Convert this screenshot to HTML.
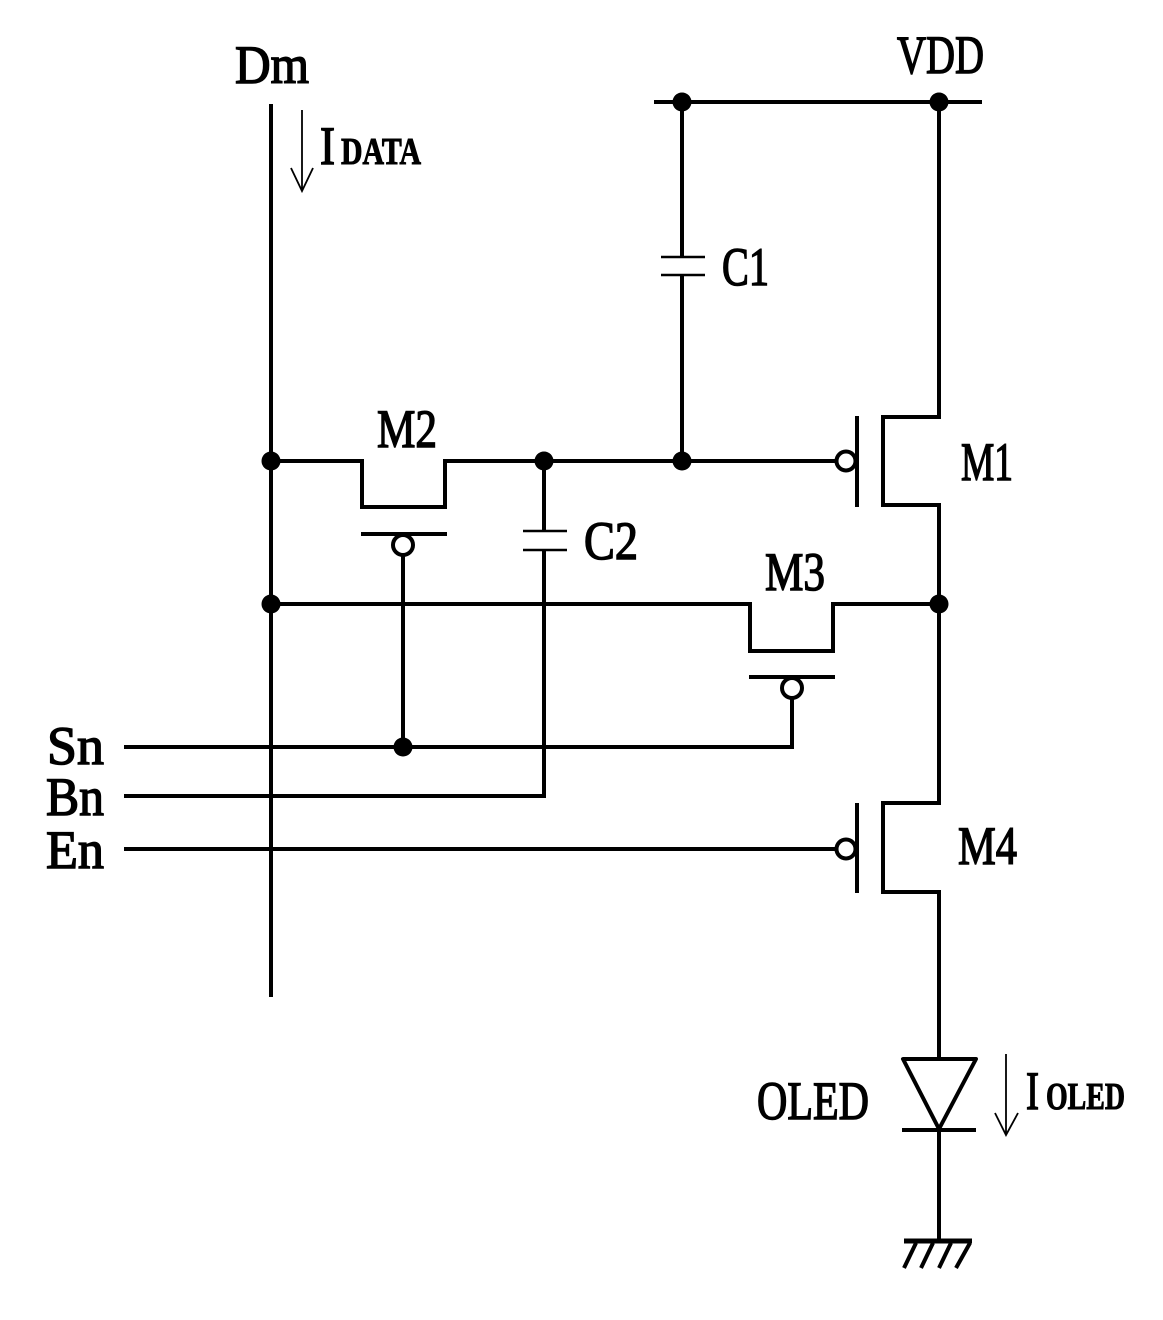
<!DOCTYPE html>
<html>
<head>
<meta charset="utf-8">
<style>
html,body{margin:0;padding:0;background:#fff;}
svg{display:block;}
text{font-family:"Liberation Serif",serif;fill:#000;}
.t{font-size:54px;stroke:#000;stroke-width:1.5px;}
.s{font-size:38px;font-weight:bold;stroke:#000;stroke-width:1px;}
</style>
</head>
<body>
<svg width="1163" height="1320" viewBox="0 0 1163 1320" xmlns="http://www.w3.org/2000/svg">
<rect width="1163" height="1320" fill="#fff"/>
<g fill="none" stroke="#000" stroke-width="4">
  <path d="M271 104V997"/>
  <path d="M654 102H982"/>
  <path d="M682 102V257M682 275V461"/>
  <path d="M939 102V417H883V505H939V803H883V892H939V1059"/>
  <path d="M271 461H362V507H445V461H837"/>
  <path d="M544 461V531M544 550V796H124"/>
  <path d="M271 604H750V651H833V604H939"/>
  <path d="M361 534H447M403 555V747"/>
  <path d="M749 677H835M792 698V747H124"/>
  <path d="M124 849H837"/>
  <path d="M857 416V507M857 803V893"/>
  <circle cx="846" cy="461" r="9.5"/>
  <circle cx="846" cy="849" r="9.5"/>
  <circle cx="403" cy="545" r="10"/>
  <circle cx="792" cy="688" r="10"/>
  <path d="M903 1059H976L939 1129Z" stroke-linejoin="round"/>
  <path d="M902 1130H976M939 1130V1240"/>
  <path d="M904 1241H972" stroke-width="5"/>
  <path d="M916 1243L904 1268M933 1243L921 1268M951 1243L939 1268M970 1243L956 1268"/>
</g>
<g fill="none" stroke="#000" stroke-width="2.5">
  <path d="M661 257H705M661 275H705"/>
  <path d="M523 531H567M523 550H567"/>
</g>
<g fill="none" stroke="#000" stroke-width="1.8">
  <path d="M302 110V191M291 168L302 191L313 168"/>
  <path d="M1006 1054V1135M995 1113L1006 1135L1018 1113"/>
</g>
<g fill="#000">
  <circle cx="682" cy="102" r="9.5"/>
  <circle cx="939" cy="102" r="9.5"/>
  <circle cx="271" cy="461" r="9.5"/>
  <circle cx="544" cy="461" r="9.5"/>
  <circle cx="682" cy="461" r="9.5"/>
  <circle cx="271" cy="604" r="9.5"/>
  <circle cx="939" cy="604" r="9.5"/>
  <circle cx="403" cy="747" r="9.5"/>
</g>
<text class="t" x="235" y="83" textLength="74" lengthAdjust="spacingAndGlyphs">Dm</text>
<text class="t" x="320" y="164" textLength="15" lengthAdjust="spacingAndGlyphs">I</text>
<text class="s" x="341" y="164" textLength="80" lengthAdjust="spacingAndGlyphs">DATA</text>
<text class="t" x="897" y="73" textLength="87" lengthAdjust="spacingAndGlyphs">VDD</text>
<text class="t" x="722" y="285" textLength="47" lengthAdjust="spacingAndGlyphs">C1</text>
<text class="t" x="377" y="447" textLength="60" lengthAdjust="spacingAndGlyphs">M2</text>
<text class="t" x="584" y="559" textLength="54" lengthAdjust="spacingAndGlyphs">C2</text>
<text class="t" x="765" y="590" textLength="60" lengthAdjust="spacingAndGlyphs">M3</text>
<text class="t" x="961" y="480" textLength="52" lengthAdjust="spacingAndGlyphs">M1</text>
<text class="t" x="958" y="864" textLength="59" lengthAdjust="spacingAndGlyphs">M4</text>
<text class="t" x="47" y="764" textLength="57" lengthAdjust="spacingAndGlyphs">Sn</text>
<text class="t" x="46" y="815" textLength="58" lengthAdjust="spacingAndGlyphs">Bn</text>
<text class="t" x="46" y="868" textLength="58" lengthAdjust="spacingAndGlyphs">En</text>
<text class="t" x="757" y="1119" textLength="112" lengthAdjust="spacingAndGlyphs">OLED</text>
<text class="t" x="1026" y="1109" textLength="13" lengthAdjust="spacingAndGlyphs">I</text>
<text class="s" x="1046" y="1109" textLength="79" lengthAdjust="spacingAndGlyphs">OLED</text>
</svg>
</body>
</html>
